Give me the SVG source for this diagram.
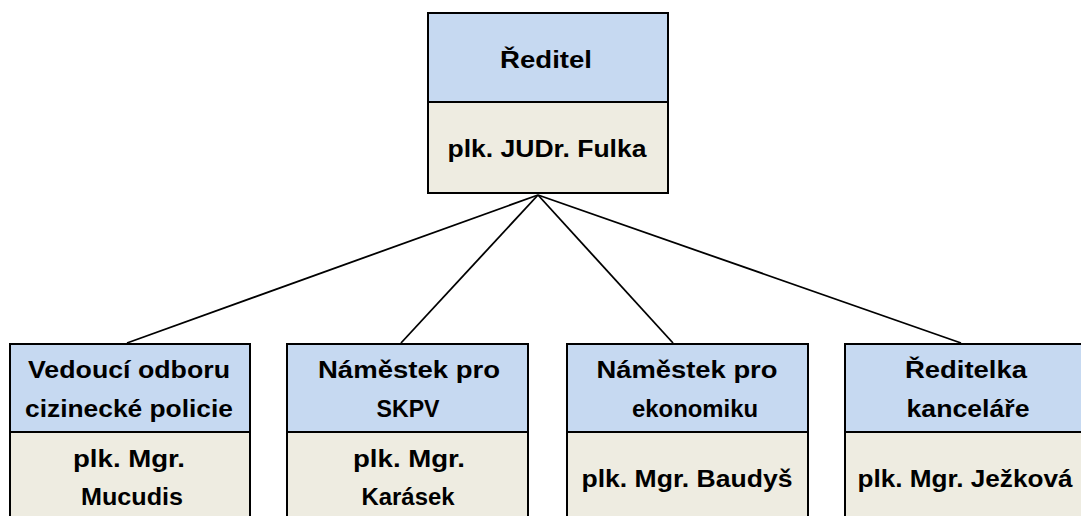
<svg xmlns="http://www.w3.org/2000/svg" width="1081" height="516" viewBox="0 0 1081 516">
<style>
.hd{fill:#C6D9F1;stroke:#000;stroke-width:2}
.bd{fill:#EEECE1;stroke:#000;stroke-width:2}
.t{font-family:"Liberation Sans",Arial,sans-serif;font-weight:bold;font-size:23px;fill:#000;text-anchor:middle}
.c{stroke:#000;stroke-width:1.8;fill:none}
</style>
<rect width="1081" height="516" fill="#fff"/>
<g id="connectors">
<line class="c" x1="538" y1="195" x2="127" y2="343"/>
<line class="c" x1="538" y1="195" x2="401" y2="343"/>
<line class="c" x1="538" y1="195" x2="673" y2="343"/>
<line class="c" x1="538" y1="195" x2="961" y2="343"/>
</g>
<g id="reditel">
<rect class="hd" x="428" y="13" width="240" height="89"/>
<rect class="bd" x="428" y="102" width="240" height="91"/>
<text class="t" x="546" y="68" textLength="92" lengthAdjust="spacingAndGlyphs">Ředitel</text>
<text class="t" x="547" y="157" textLength="199" lengthAdjust="spacingAndGlyphs">plk. JUDr. Fulka</text>
</g>
<g id="cizinecka">
<rect class="hd" x="10" y="344" width="240" height="88"/>
<rect class="bd" x="10" y="432" width="240" height="90"/>
<text class="t" x="129" y="378" textLength="202" lengthAdjust="spacingAndGlyphs">Vedoucí odboru</text>
<text class="t" x="129" y="417" textLength="208" lengthAdjust="spacingAndGlyphs">cizinecké policie</text>
<text class="t" x="129" y="467" textLength="112" lengthAdjust="spacingAndGlyphs">plk. Mgr.</text>
<text class="t" x="132" y="505" textLength="102" lengthAdjust="spacingAndGlyphs">Mucudis</text>
</g>
<g id="skpv">
<rect class="hd" x="287" y="344" width="241" height="88"/>
<rect class="bd" x="287" y="432" width="241" height="90"/>
<text class="t" x="409" y="378" textLength="182" lengthAdjust="spacingAndGlyphs">Náměstek pro</text>
<text class="t" x="408" y="417" textLength="63" lengthAdjust="spacingAndGlyphs">SKPV</text>
<text class="t" x="409" y="467" textLength="112" lengthAdjust="spacingAndGlyphs">plk. Mgr.</text>
<text class="t" x="408" y="505" textLength="93" lengthAdjust="spacingAndGlyphs">Karásek</text>
</g>
<g id="ekonomika">
<rect class="hd" x="567" y="344" width="241" height="88"/>
<rect class="bd" x="567" y="432" width="241" height="90"/>
<text class="t" x="687" y="378" textLength="181" lengthAdjust="spacingAndGlyphs">Náměstek pro</text>
<text class="t" x="695" y="417" textLength="126" lengthAdjust="spacingAndGlyphs">ekonomiku</text>
<text class="t" x="687" y="487" textLength="211" lengthAdjust="spacingAndGlyphs">plk. Mgr. Baudyš</text>
</g>
<g id="kancelar">
<rect class="hd" x="845" y="344" width="245" height="88"/>
<rect class="bd" x="845" y="432" width="245" height="90"/>
<text class="t" x="966" y="378" textLength="122" lengthAdjust="spacingAndGlyphs">Ředitelka</text>
<text class="t" x="968" y="417" textLength="123" lengthAdjust="spacingAndGlyphs">kanceláře</text>
<text class="t" x="965" y="487" textLength="215" lengthAdjust="spacingAndGlyphs">plk. Mgr. Ježková</text>
</g>
</svg>
